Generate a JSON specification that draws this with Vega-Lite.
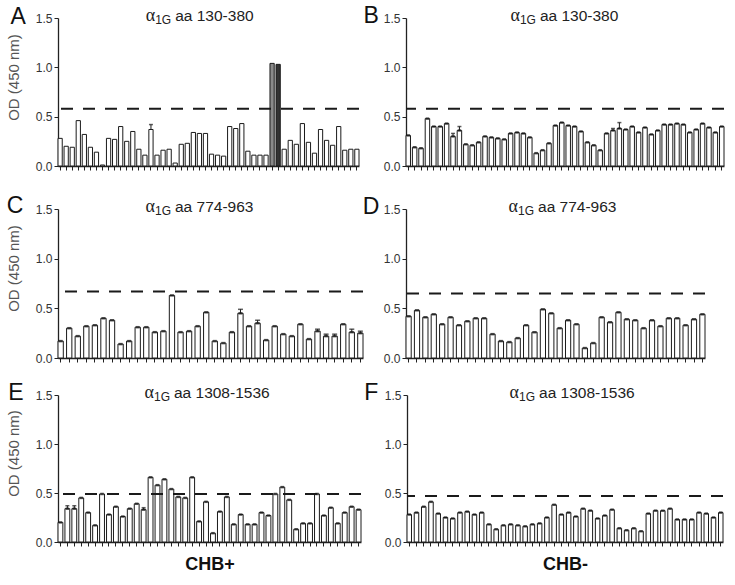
{
  "$schema": "https://vega.github.io/schema/vega-lite/v6.json",
  "padding": {"left": 5, "top": 5, "right": 5, "bottom": 5},
  "background": "white",
  "config": {
    "font": "Liberation Sans",
    "view": {"stroke": null},
    "axis": {"domainColor": "#222", "domainWidth": 1.3, "tickColor": "#222", "tickWidth": 1, "tickSize": 4, "labelFont": "Liberation Sans", "labelFontSize": 12, "labelColor": "#333", "labelPadding": 2, "grid": false, "titleFont": "Liberation Sans"},
    "axisY": {"titleFontSize": 15, "titleFontWeight": "normal", "titleColor": "#555"},
    "axisX": {"titleFontSize": 18, "titleFontWeight": "bold", "titleColor": "#111", "titlePadding": 9},
    "text": {"color": "#222"}
  },
  "datasets": {
    "A": [{"i":1,"v":0.28},{"i":2,"v":0.20},{"i":3,"v":0.19},{"i":4,"v":0.46},{"i":5,"v":0.32},{"i":6,"v":0.19},{"i":7,"v":0.14},{"i":8,"v":0.01},{"i":9,"v":0.28},{"i":10,"v":0.27},{"i":11,"v":0.40},{"i":12,"v":0.25},{"i":13,"v":0.35},{"i":14,"v":0.17},{"i":15,"v":0.11},{"i":16,"v":0.37,"h":0.42},{"i":17,"v":0.11},{"i":18,"v":0.16},{"i":19,"v":0.17},{"i":20,"v":0.03},{"i":21,"v":0.22},{"i":22,"v":0.23},{"i":23,"v":0.34},{"i":24,"v":0.33},{"i":25,"v":0.33},{"i":26,"v":0.12},{"i":27,"v":0.11},{"i":28,"v":0.10},{"i":29,"v":0.40},{"i":30,"v":0.38},{"i":31,"v":0.43},{"i":32,"v":0.15},{"i":33,"v":0.11},{"i":34,"v":0.11},{"i":35,"v":0.11},{"i":36,"v":1.04,"g":"p"},{"i":37,"v":1.03,"g":"q"},{"i":38,"v":0.17},{"i":39,"v":0.26},{"i":40,"v":0.22},{"i":41,"v":0.43},{"i":42,"v":0.24},{"i":43,"v":0.13},{"i":44,"v":0.37},{"i":45,"v":0.26},{"i":46,"v":0.21},{"i":47,"v":0.40},{"i":48,"v":0.16},{"i":49,"v":0.17},{"i":50,"v":0.17}],
    "B": [{"i":1,"v":0.31},{"i":2,"v":0.19},{"i":3,"v":0.18},{"i":4,"v":0.48},{"i":5,"v":0.40},{"i":6,"v":0.40},{"i":7,"v":0.43},{"i":8,"v":0.30,"h":0.33},{"i":9,"v":0.36,"h":0.40},{"i":10,"v":0.22},{"i":11,"v":0.21},{"i":12,"v":0.24},{"i":13,"v":0.30},{"i":14,"v":0.29},{"i":15,"v":0.28},{"i":16,"v":0.27},{"i":17,"v":0.33},{"i":18,"v":0.34},{"i":19,"v":0.33},{"i":20,"v":0.29},{"i":21,"v":0.13},{"i":22,"v":0.16},{"i":23,"v":0.23},{"i":24,"v":0.41},{"i":25,"v":0.44},{"i":26,"v":0.41},{"i":27,"v":0.40},{"i":28,"v":0.35},{"i":29,"v":0.24},{"i":30,"v":0.21},{"i":31,"v":0.16},{"i":32,"v":0.33},{"i":33,"v":0.36,"h":0.38},{"i":34,"v":0.38,"h":0.44},{"i":35,"v":0.37},{"i":36,"v":0.40},{"i":37,"v":0.34},{"i":38,"v":0.39},{"i":39,"v":0.32},{"i":40,"v":0.36},{"i":41,"v":0.42},{"i":42,"v":0.42},{"i":43,"v":0.43},{"i":44,"v":0.42},{"i":45,"v":0.34},{"i":46,"v":0.37},{"i":47,"v":0.43},{"i":48,"v":0.39},{"i":49,"v":0.34},{"i":50,"v":0.40}],
    "C": [{"i":1,"v":0.17},{"i":2,"v":0.30},{"i":3,"v":0.22},{"i":4,"v":0.32},{"i":5,"v":0.33},{"i":6,"v":0.40},{"i":7,"v":0.38},{"i":8,"v":0.14},{"i":9,"v":0.17},{"i":10,"v":0.31},{"i":11,"v":0.31},{"i":12,"v":0.26},{"i":13,"v":0.27},{"i":14,"v":0.63},{"i":15,"v":0.26},{"i":16,"v":0.27},{"i":17,"v":0.32},{"i":18,"v":0.46},{"i":19,"v":0.17},{"i":20,"v":0.15},{"i":21,"v":0.26},{"i":22,"v":0.45,"h":0.49},{"i":23,"v":0.32},{"i":24,"v":0.35,"h":0.38},{"i":25,"v":0.18},{"i":26,"v":0.32},{"i":27,"v":0.24},{"i":28,"v":0.22},{"i":29,"v":0.34},{"i":30,"v":0.19},{"i":31,"v":0.27,"h":0.29},{"i":32,"v":0.22,"h":0.24},{"i":33,"v":0.22,"h":0.24},{"i":34,"v":0.34},{"i":35,"v":0.26,"h":0.29},{"i":36,"v":0.25,"h":0.27}],
    "D": [{"i":1,"v":0.42},{"i":2,"v":0.48},{"i":3,"v":0.41},{"i":4,"v":0.44},{"i":5,"v":0.34},{"i":6,"v":0.41},{"i":7,"v":0.33},{"i":8,"v":0.37},{"i":9,"v":0.40},{"i":10,"v":0.40},{"i":11,"v":0.24},{"i":12,"v":0.17},{"i":13,"v":0.16},{"i":14,"v":0.20},{"i":15,"v":0.33},{"i":16,"v":0.26},{"i":17,"v":0.49},{"i":18,"v":0.45},{"i":19,"v":0.30},{"i":20,"v":0.38},{"i":21,"v":0.34},{"i":22,"v":0.10},{"i":23,"v":0.15},{"i":24,"v":0.41},{"i":25,"v":0.36},{"i":26,"v":0.46},{"i":27,"v":0.39},{"i":28,"v":0.38},{"i":29,"v":0.30},{"i":30,"v":0.38},{"i":31,"v":0.32},{"i":32,"v":0.40},{"i":33,"v":0.40},{"i":34,"v":0.33},{"i":35,"v":0.39},{"i":36,"v":0.44}],
    "E": [{"i":1,"v":0.20},{"i":2,"v":0.34,"h":0.37},{"i":3,"v":0.34,"h":0.37},{"i":4,"v":0.45},{"i":5,"v":0.30},{"i":6,"v":0.17},{"i":7,"v":0.49},{"i":8,"v":0.28},{"i":9,"v":0.36},{"i":10,"v":0.26},{"i":11,"v":0.34},{"i":12,"v":0.39},{"i":13,"v":0.33,"h":0.35},{"i":14,"v":0.66},{"i":15,"v":0.58},{"i":16,"v":0.64},{"i":17,"v":0.54},{"i":18,"v":0.46},{"i":19,"v":0.45},{"i":20,"v":0.66},{"i":21,"v":0.21},{"i":22,"v":0.41},{"i":23,"v":0.09},{"i":24,"v":0.31},{"i":25,"v":0.46},{"i":26,"v":0.18},{"i":27,"v":0.28},{"i":28,"v":0.18},{"i":29,"v":0.18},{"i":30,"v":0.30},{"i":31,"v":0.27},{"i":32,"v":0.49},{"i":33,"v":0.56},{"i":34,"v":0.43},{"i":35,"v":0.13},{"i":36,"v":0.19},{"i":37,"v":0.19},{"i":38,"v":0.49},{"i":39,"v":0.27},{"i":40,"v":0.35},{"i":41,"v":0.19},{"i":42,"v":0.30},{"i":43,"v":0.36},{"i":44,"v":0.33}],
    "F": [{"i":1,"v":0.28},{"i":2,"v":0.30},{"i":3,"v":0.36},{"i":4,"v":0.41},{"i":5,"v":0.29},{"i":6,"v":0.25},{"i":7,"v":0.24},{"i":8,"v":0.30},{"i":9,"v":0.31},{"i":10,"v":0.28},{"i":11,"v":0.30},{"i":12,"v":0.18},{"i":13,"v":0.13},{"i":14,"v":0.17},{"i":15,"v":0.18},{"i":16,"v":0.17},{"i":17,"v":0.16},{"i":18,"v":0.18},{"i":19,"v":0.19},{"i":20,"v":0.25},{"i":21,"v":0.38},{"i":22,"v":0.28},{"i":23,"v":0.30},{"i":24,"v":0.26},{"i":25,"v":0.34},{"i":26,"v":0.32},{"i":27,"v":0.24},{"i":28,"v":0.27},{"i":29,"v":0.33},{"i":30,"v":0.14},{"i":31,"v":0.12},{"i":32,"v":0.14},{"i":33,"v":0.11},{"i":34,"v":0.29},{"i":35,"v":0.32},{"i":36,"v":0.32},{"i":37,"v":0.34},{"i":38,"v":0.23},{"i":39,"v":0.23},{"i":40,"v":0.23},{"i":41,"v":0.30},{"i":42,"v":0.29},{"i":43,"v":0.25},{"i":44,"v":0.30}]
  },
  "spacing": 23,
  "vconcat": [
    {
      "bounds": "flush",
      "spacing": 47,
      "hconcat": [
        {
          "width": 301, "height": 148,
          "layer": [
            {"data": {"name": "A"}, "mark": {"type": "bar", "stroke": "#1a1a1a", "strokeWidth": 1},
             "encoding": {
               "x": {"field": "i", "type": "ordinal", "scale": {"paddingInner": 0.3, "paddingOuter": 0}, "axis": {"labels": false, "title": null}},
               "y": {"field": "v", "type": "quantitative", "scale": {"domain": [0, 1.5], "nice": false}, "axis": {"values": [0, 0.5, 1, 1.5], "format": ".1f", "title": "OD (450 nm)", "titleX": -45, "titleY": 59, "titleAngle": -90, "titleAlign": "center", "titleBaseline": "middle"}},
               "fill": {"condition": [{"test": "datum.g === 'p'", "value": "#8a8a8a"}, {"test": "datum.g === 'q'", "value": "#333333"}], "value": "white"}
             }},
            {"data": {"name": "A"}, "transform": [{"filter": "isValid(datum.h)"}], "mark": {"type": "rule", "color": "#1a1a1a", "strokeWidth": 1},
             "encoding": {"x": {"field": "i", "type": "ordinal"}, "y": {"field": "v", "type": "quantitative"}, "y2": {"field": "h"}}},
            {"data": {"name": "A"}, "transform": [{"filter": "isValid(datum.h)"}], "mark": {"type": "tick", "color": "#1a1a1a", "thickness": 1.5, "size": 4},
             "encoding": {"x": {"field": "i", "type": "ordinal"}, "y": {"field": "h", "type": "quantitative"}}},
            {"data": {"values": [{}]}, "mark": {"type": "rule", "strokeDash": [12, 10], "strokeWidth": 2, "color": "#1a1a1a"}, "encoding": {"y": {"datum": 0.58, "type": "quantitative"}}},
            {"data": {"values": [{"t": "A"}]}, "mark": {"type": "text", "fontSize": 23, "align": "center", "baseline": "alphabetic", "dx": -42, "dy": 6, "color": "#111"},
             "encoding": {"x": {"datum": 1, "type": "ordinal"}, "y": {"datum": 1.5, "type": "quantitative"}, "text": {"field": "t"}}},
            {"data": {"values": [{"t": "α"}]}, "mark": {"type": "text", "font": "Liberation Serif", "fontSize": 18, "align": "right", "baseline": "alphabetic", "dx": -20, "dy": 2.5},
             "encoding": {"x": {"datum": 20, "type": "ordinal"}, "y": {"datum": 1.5, "type": "quantitative"}, "text": {"field": "t"}}},
            {"data": {"values": [{"t": "1G"}]}, "mark": {"type": "text", "fontSize": 12, "align": "left", "baseline": "alphabetic", "dx": -20, "dy": 5.5},
             "encoding": {"x": {"datum": 20, "type": "ordinal"}, "y": {"datum": 1.5, "type": "quantitative"}, "text": {"field": "t"}}},
            {"data": {"values": [{"t": "aa 130-380"}]}, "mark": {"type": "text", "fontSize": 15.5, "align": "left", "baseline": "alphabetic", "dx": 0, "dy": 2.5},
             "encoding": {"x": {"datum": 20, "type": "ordinal"}, "y": {"datum": 1.5, "type": "quantitative"}, "text": {"field": "t"}}}
          ]
        },
        {
          "width": 318, "height": 148,
          "layer": [
            {"data": {"name": "B"}, "mark": {"type": "bar", "stroke": "#1a1a1a", "strokeWidth": 1, "fill": "white"},
             "encoding": {
               "x": {"field": "i", "type": "ordinal", "scale": {"paddingInner": 0.3, "paddingOuter": 0}, "axis": {"labels": false, "title": null}},
               "y": {"field": "v", "type": "quantitative", "scale": {"domain": [0, 1.5], "nice": false}, "axis": {"values": [0, 0.5, 1, 1.5], "format": ".1f", "title": null}}
             }},
            {"data": {"name": "B"}, "mark": {"type": "tick", "color": "#1a1a1a", "thickness": 2.5, "size": 3.5},
             "encoding": {"x": {"field": "i", "type": "ordinal"}, "y": {"field": "v", "type": "quantitative"}}},
            {"data": {"name": "B"}, "transform": [{"filter": "isValid(datum.h)"}], "mark": {"type": "rule", "color": "#1a1a1a", "strokeWidth": 1},
             "encoding": {"x": {"field": "i", "type": "ordinal"}, "y": {"field": "v", "type": "quantitative"}, "y2": {"field": "h"}}},
            {"data": {"name": "B"}, "transform": [{"filter": "isValid(datum.h)"}], "mark": {"type": "tick", "color": "#1a1a1a", "thickness": 1.5, "size": 4},
             "encoding": {"x": {"field": "i", "type": "ordinal"}, "y": {"field": "h", "type": "quantitative"}}},
            {"data": {"values": [{}]}, "mark": {"type": "rule", "strokeDash": [12, 10], "strokeWidth": 2, "color": "#1a1a1a"}, "encoding": {"y": {"datum": 0.58, "type": "quantitative"}}},
            {"data": {"values": [{"t": "B"}]}, "mark": {"type": "text", "fontSize": 23, "align": "center", "baseline": "alphabetic", "dx": -37, "dy": 5, "color": "#111"},
             "encoding": {"x": {"datum": 1, "type": "ordinal"}, "y": {"datum": 1.5, "type": "quantitative"}, "text": {"field": "t"}}},
            {"data": {"values": [{"t": "α"}]}, "mark": {"type": "text", "font": "Liberation Serif", "fontSize": 18, "align": "right", "baseline": "alphabetic", "dx": -16.3, "dy": 2.5},
             "encoding": {"x": {"datum": 21, "type": "ordinal"}, "y": {"datum": 1.5, "type": "quantitative"}, "text": {"field": "t"}}},
            {"data": {"values": [{"t": "1G"}]}, "mark": {"type": "text", "fontSize": 12, "align": "left", "baseline": "alphabetic", "dx": -16.3, "dy": 5.5},
             "encoding": {"x": {"datum": 21, "type": "ordinal"}, "y": {"datum": 1.5, "type": "quantitative"}, "text": {"field": "t"}}},
            {"data": {"values": [{"t": "aa 130-380"}]}, "mark": {"type": "text", "fontSize": 15.5, "align": "left", "baseline": "alphabetic", "dx": 3.7, "dy": 2.5},
             "encoding": {"x": {"datum": 21, "type": "ordinal"}, "y": {"datum": 1.5, "type": "quantitative"}, "text": {"field": "t"}}}
          ]
        }
      ]
    },
    {
      "spacing": 18,
      "vconcat": [
        {
          "bounds": "flush",
          "spacing": 43,
          "hconcat": [
            {
              "width": 305, "height": 149,
              "layer": [
                {"data": {"name": "C"}, "mark": {"type": "bar", "stroke": "#1a1a1a", "strokeWidth": 1, "fill": "white"},
                 "encoding": {
                   "x": {"field": "i", "type": "ordinal", "scale": {"paddingInner": 0.38, "paddingOuter": 0}, "axis": {"labels": false, "title": null}},
                   "y": {"field": "v", "type": "quantitative", "scale": {"domain": [0, 1.5], "nice": false}, "axis": {"values": [0, 0.5, 1, 1.5], "format": ".1f", "title": "OD (450 nm)", "titleX": -45, "titleY": 59, "titleAngle": -90, "titleAlign": "center", "titleBaseline": "middle"}}
                 }},
                {"data": {"name": "C"}, "mark": {"type": "tick", "color": "#1a1a1a", "thickness": 2.5, "size": 4},
                 "encoding": {"x": {"field": "i", "type": "ordinal"}, "y": {"field": "v", "type": "quantitative"}}},
                {"data": {"name": "C"}, "transform": [{"filter": "isValid(datum.h)"}], "mark": {"type": "rule", "color": "#1a1a1a", "strokeWidth": 1},
                 "encoding": {"x": {"field": "i", "type": "ordinal"}, "y": {"field": "v", "type": "quantitative"}, "y2": {"field": "h"}}},
                {"data": {"name": "C"}, "transform": [{"filter": "isValid(datum.h)"}], "mark": {"type": "tick", "color": "#1a1a1a", "thickness": 1.5, "size": 5},
                 "encoding": {"x": {"field": "i", "type": "ordinal"}, "y": {"field": "h", "type": "quantitative"}}},
                {"data": {"values": [{}]}, "mark": {"type": "rule", "strokeDash": [12, 10], "strokeWidth": 2, "color": "#1a1a1a"}, "encoding": {"y": {"datum": 0.67, "type": "quantitative"}}},
                {"data": {"values": [{"t": "C"}]}, "mark": {"type": "text", "fontSize": 23, "align": "center", "baseline": "alphabetic", "dx": -45.6, "dy": 4, "color": "#111"},
                 "encoding": {"x": {"datum": 1, "type": "ordinal"}, "y": {"datum": 1.5, "type": "quantitative"}, "text": {"field": "t"}}},
                {"data": {"values": [{"t": "α"}]}, "mark": {"type": "text", "font": "Liberation Serif", "fontSize": 18, "align": "right", "baseline": "alphabetic", "dx": -17, "dy": 2.5},
                 "encoding": {"x": {"datum": 14, "type": "ordinal"}, "y": {"datum": 1.5, "type": "quantitative"}, "text": {"field": "t"}}},
                {"data": {"values": [{"t": "1G"}]}, "mark": {"type": "text", "fontSize": 12, "align": "left", "baseline": "alphabetic", "dx": -17, "dy": 5.5},
                 "encoding": {"x": {"datum": 14, "type": "ordinal"}, "y": {"datum": 1.5, "type": "quantitative"}, "text": {"field": "t"}}},
                {"data": {"values": [{"t": "aa 774-963"}]}, "mark": {"type": "text", "fontSize": 15.5, "align": "left", "baseline": "alphabetic", "dx": 3, "dy": 2.5},
                 "encoding": {"x": {"datum": 14, "type": "ordinal"}, "y": {"datum": 1.5, "type": "quantitative"}, "text": {"field": "t"}}}
              ]
            },
            {
              "width": 299, "height": 149,
              "layer": [
                {"data": {"name": "D"}, "mark": {"type": "bar", "stroke": "#1a1a1a", "strokeWidth": 1, "fill": "white"},
                 "encoding": {
                   "x": {"field": "i", "type": "ordinal", "scale": {"paddingInner": 0.38, "paddingOuter": 0}, "axis": {"labels": false, "title": null}},
                   "y": {"field": "v", "type": "quantitative", "scale": {"domain": [0, 1.5], "nice": false}, "axis": {"values": [0, 0.5, 1, 1.5], "format": ".1f", "title": null}}
                 }},
                {"data": {"name": "D"}, "mark": {"type": "tick", "color": "#1a1a1a", "thickness": 2.5, "size": 4},
                 "encoding": {"x": {"field": "i", "type": "ordinal"}, "y": {"field": "v", "type": "quantitative"}}},
                {"data": {"values": [{}]}, "mark": {"type": "rule", "strokeDash": [12, 10], "strokeWidth": 2, "color": "#1a1a1a"}, "encoding": {"y": {"datum": 0.65, "type": "quantitative"}}},
                {"data": {"values": [{"t": "D"}]}, "mark": {"type": "text", "fontSize": 23, "align": "center", "baseline": "alphabetic", "dx": -37.6, "dy": 5, "color": "#111"},
                 "encoding": {"x": {"datum": 1, "type": "ordinal"}, "y": {"datum": 1.5, "type": "quantitative"}, "text": {"field": "t"}}},
                {"data": {"values": [{"t": "α"}]}, "mark": {"type": "text", "font": "Liberation Serif", "fontSize": 18, "align": "right", "baseline": "alphabetic", "dx": -16.5, "dy": 2.5},
                 "encoding": {"x": {"datum": 16, "type": "ordinal"}, "y": {"datum": 1.5, "type": "quantitative"}, "text": {"field": "t"}}},
                {"data": {"values": [{"t": "1G"}]}, "mark": {"type": "text", "fontSize": 12, "align": "left", "baseline": "alphabetic", "dx": -16.5, "dy": 5.5},
                 "encoding": {"x": {"datum": 16, "type": "ordinal"}, "y": {"datum": 1.5, "type": "quantitative"}, "text": {"field": "t"}}},
                {"data": {"values": [{"t": "aa 774-963"}]}, "mark": {"type": "text", "fontSize": 15.5, "align": "left", "baseline": "alphabetic", "dx": 3.5, "dy": 2.5},
                 "encoding": {"x": {"datum": 16, "type": "ordinal"}, "y": {"datum": 1.5, "type": "quantitative"}, "text": {"field": "t"}}}
              ]
            }
          ]
        },
        {
          "bounds": "flush",
          "spacing": 46,
          "hconcat": [
            {
              "width": 303, "height": 147,
              "layer": [
                {"data": {"name": "E"}, "mark": {"type": "bar", "stroke": "#1a1a1a", "strokeWidth": 1, "fill": "white"},
                 "encoding": {
                   "x": {"field": "i", "type": "ordinal", "scale": {"paddingInner": 0.3, "paddingOuter": 0}, "axis": {"labels": false, "title": "CHB+"}},
                   "y": {"field": "v", "type": "quantitative", "scale": {"domain": [0, 1.5], "nice": false}, "axis": {"values": [0, 0.5, 1, 1.5], "format": ".1f", "title": "OD (450 nm)", "titleX": -45, "titleY": 58, "titleAngle": -90, "titleAlign": "center", "titleBaseline": "middle"}}
                 }},
                {"data": {"name": "E"}, "mark": {"type": "tick", "color": "#1a1a1a", "thickness": 2.5, "size": 3.5},
                 "encoding": {"x": {"field": "i", "type": "ordinal"}, "y": {"field": "v", "type": "quantitative"}}},
                {"data": {"name": "E"}, "transform": [{"filter": "isValid(datum.h)"}], "mark": {"type": "rule", "color": "#1a1a1a", "strokeWidth": 1},
                 "encoding": {"x": {"field": "i", "type": "ordinal"}, "y": {"field": "v", "type": "quantitative"}, "y2": {"field": "h"}}},
                {"data": {"name": "E"}, "transform": [{"filter": "isValid(datum.h)"}], "mark": {"type": "tick", "color": "#1a1a1a", "thickness": 1.5, "size": 4},
                 "encoding": {"x": {"field": "i", "type": "ordinal"}, "y": {"field": "h", "type": "quantitative"}}},
                {"data": {"values": [{}]}, "mark": {"type": "rule", "strokeDash": [12, 10], "strokeWidth": 2, "color": "#1a1a1a"}, "encoding": {"y": {"datum": 0.49, "type": "quantitative"}}},
                {"data": {"values": [{"t": "E"}]}, "mark": {"type": "text", "fontSize": 23, "align": "center", "baseline": "alphabetic", "dx": -44.4, "dy": 5, "color": "#111"},
                 "encoding": {"x": {"datum": 1, "type": "ordinal"}, "y": {"datum": 1.5, "type": "quantitative"}, "text": {"field": "t"}}},
                {"data": {"values": [{"t": "α"}]}, "mark": {"type": "text", "font": "Liberation Serif", "fontSize": 18, "align": "right", "baseline": "alphabetic", "dx": -17.4, "dy": 2.5},
                 "encoding": {"x": {"datum": 17, "type": "ordinal"}, "y": {"datum": 1.5, "type": "quantitative"}, "text": {"field": "t"}}},
                {"data": {"values": [{"t": "1G"}]}, "mark": {"type": "text", "fontSize": 12, "align": "left", "baseline": "alphabetic", "dx": -17.4, "dy": 5.5},
                 "encoding": {"x": {"datum": 17, "type": "ordinal"}, "y": {"datum": 1.5, "type": "quantitative"}, "text": {"field": "t"}}},
                {"data": {"values": [{"t": "aa 1308-1536"}]}, "mark": {"type": "text", "fontSize": 15.5, "align": "left", "baseline": "alphabetic", "dx": 2.6, "dy": 2.5},
                 "encoding": {"x": {"datum": 17, "type": "ordinal"}, "y": {"datum": 1.5, "type": "quantitative"}, "text": {"field": "t"}}}
              ]
            },
            {
              "width": 316, "height": 147,
              "layer": [
                {"data": {"name": "F"}, "mark": {"type": "bar", "stroke": "#1a1a1a", "strokeWidth": 1, "fill": "white"},
                 "encoding": {
                   "x": {"field": "i", "type": "ordinal", "scale": {"paddingInner": 0.38, "paddingOuter": 0}, "axis": {"labels": false, "title": "CHB-"}},
                   "y": {"field": "v", "type": "quantitative", "scale": {"domain": [0, 1.5], "nice": false}, "axis": {"values": [0, 0.5, 1, 1.5], "format": ".1f", "title": null}}
                 }},
                {"data": {"name": "F"}, "mark": {"type": "tick", "color": "#1a1a1a", "thickness": 2.5, "size": 3.5},
                 "encoding": {"x": {"field": "i", "type": "ordinal"}, "y": {"field": "v", "type": "quantitative"}}},
                {"data": {"values": [{}]}, "mark": {"type": "rule", "strokeDash": [12, 10], "strokeWidth": 2, "color": "#1a1a1a"}, "encoding": {"y": {"datum": 0.47, "type": "quantitative"}}},
                {"data": {"values": [{"t": "F"}]}, "mark": {"type": "text", "fontSize": 23, "align": "center", "baseline": "alphabetic", "dx": -38, "dy": 5, "color": "#111"},
                 "encoding": {"x": {"datum": 1, "type": "ordinal"}, "y": {"datum": 1.5, "type": "quantitative"}, "text": {"field": "t"}}},
                {"data": {"values": [{"t": "α"}]}, "mark": {"type": "text", "font": "Liberation Serif", "fontSize": 18, "align": "right", "baseline": "alphabetic", "dx": -20.6, "dy": 2.5},
                 "encoding": {"x": {"datum": 19, "type": "ordinal"}, "y": {"datum": 1.5, "type": "quantitative"}, "text": {"field": "t"}}},
                {"data": {"values": [{"t": "1G"}]}, "mark": {"type": "text", "fontSize": 12, "align": "left", "baseline": "alphabetic", "dx": -20.6, "dy": 5.5},
                 "encoding": {"x": {"datum": 19, "type": "ordinal"}, "y": {"datum": 1.5, "type": "quantitative"}, "text": {"field": "t"}}},
                {"data": {"values": [{"t": "aa 1308-1536"}]}, "mark": {"type": "text", "fontSize": 15.5, "align": "left", "baseline": "alphabetic", "dx": -0.6, "dy": 2.5},
                 "encoding": {"x": {"datum": 19, "type": "ordinal"}, "y": {"datum": 1.5, "type": "quantitative"}, "text": {"field": "t"}}}
              ]
            }
          ]
        }
      ]
    }
  ]
}
